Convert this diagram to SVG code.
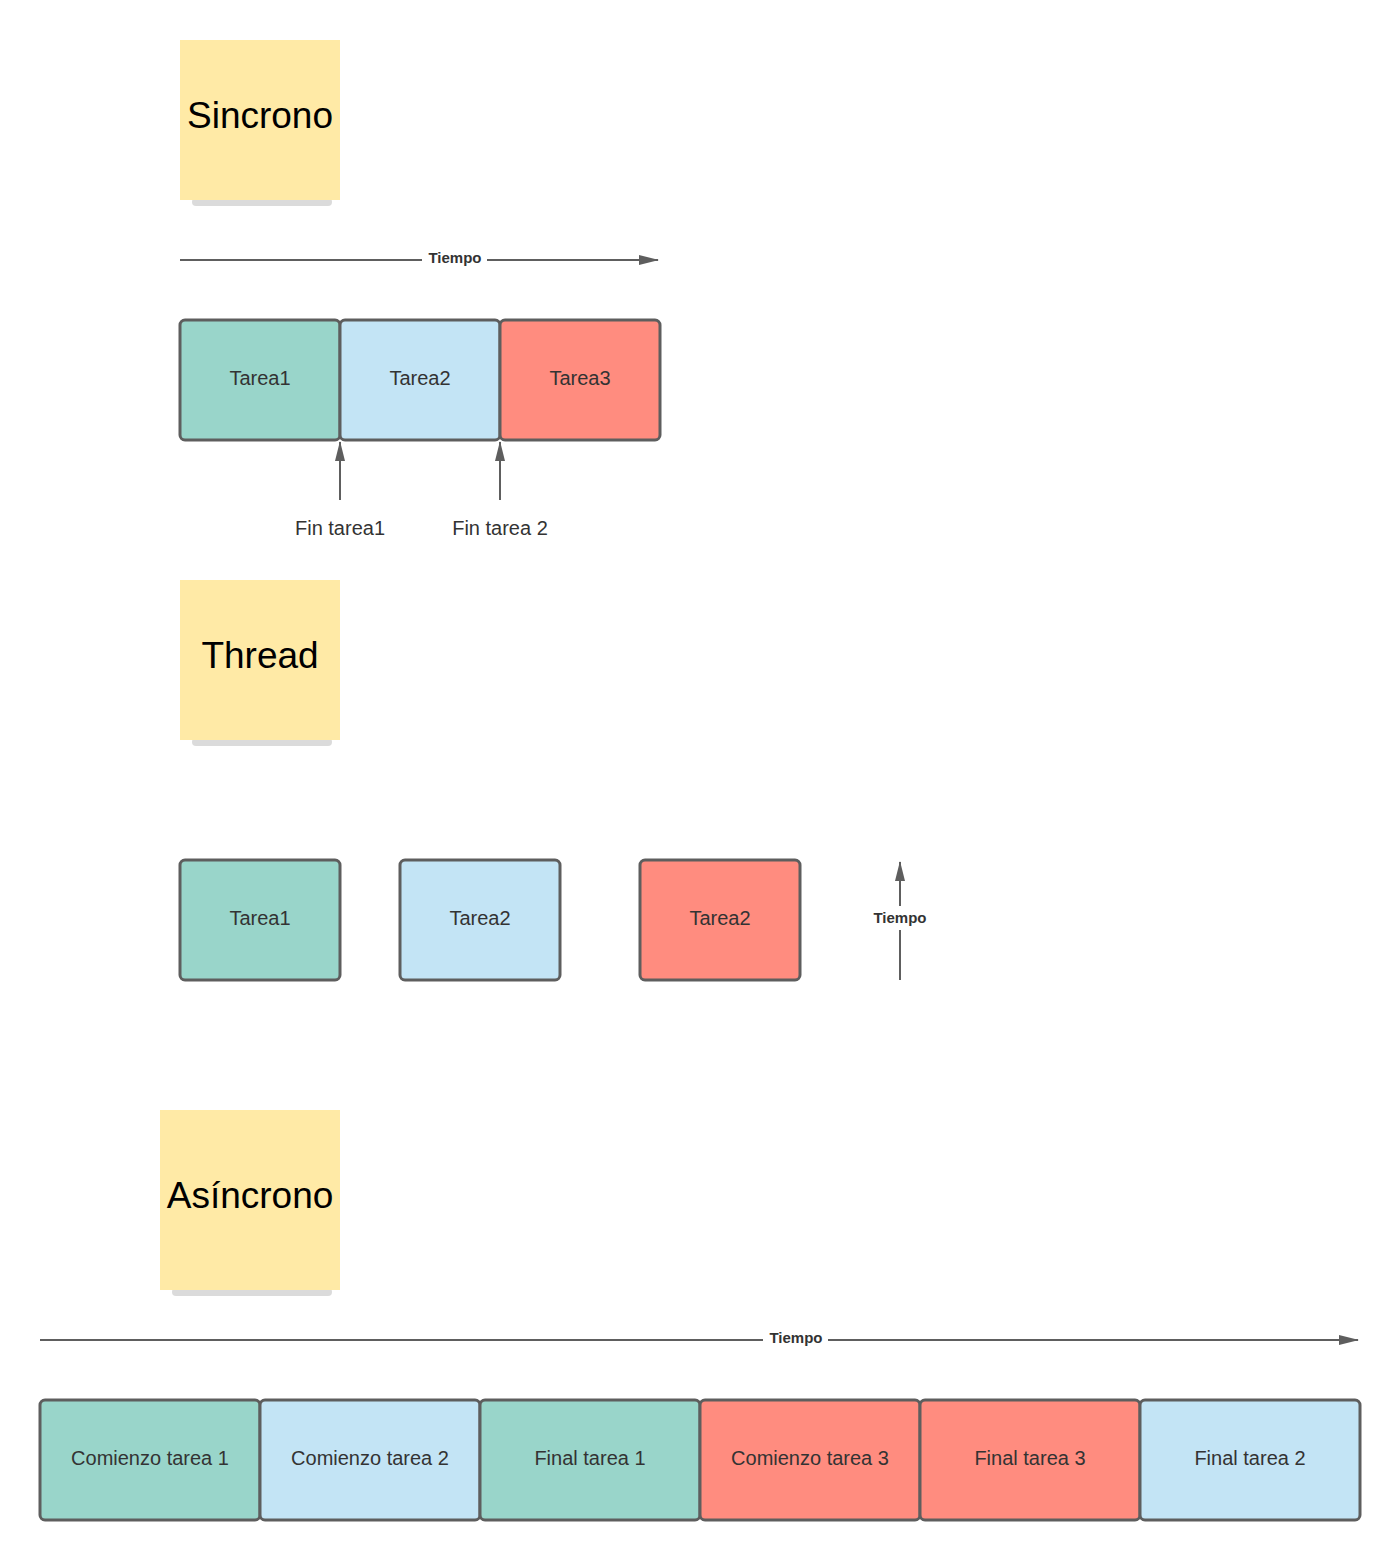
<svg xmlns="http://www.w3.org/2000/svg" width="1400" height="1560" viewBox="0 0 1400 1560">
<style>
.note{fill:#ffeaa6}
.sh{fill:#999;opacity:0.35}
.nt{font-family:"Liberation Sans",Arial,sans-serif;font-size:37px;fill:#000;text-anchor:middle}
.box{stroke:#5e5e5e;stroke-width:3}
.t1{fill:#99d5ca}.t2{fill:#c3e4f5}.t3{fill:#ff8c7f}
.bt{font-family:"Liberation Sans",Arial,sans-serif;font-size:20px;fill:#333;text-anchor:middle}
.ln{stroke:#5e5e5e;stroke-width:2;fill:none}
.lb{font-family:"Liberation Sans",Arial,sans-serif;font-size:15px;font-weight:bold;fill:#333;text-anchor:middle}
</style>
<defs>
<marker id="ar" viewBox="0 0 10 10" refX="9" refY="5" markerWidth="10" markerHeight="10" markerUnits="userSpaceOnUse" orient="auto"><path d="M0,1 L10,5 L0,9 z" fill="#5e5e5e"/></marker>
<marker id="ar2" viewBox="0 0 20 10" refX="19" refY="5" markerWidth="20" markerHeight="12" markerUnits="userSpaceOnUse" orient="auto"><path d="M0,0 L20,5 L0,10 z" fill="#5e5e5e"/></marker>
</defs>
<g id="note-sincrono"><rect class="sh" x="192" y="198" width="140" height="8" rx="4"/><rect class="note" x="180" y="40" width="160" height="160"/><text class="nt" x="260" y="128">Sincrono</text></g>
<g id="note-thread"><rect class="sh" x="192" y="738" width="140" height="8" rx="4"/><rect class="note" x="180" y="580" width="160" height="160"/><text class="nt" x="260" y="668">Thread</text></g>
<g id="note-asincrono"><rect class="sh" x="172" y="1288" width="160" height="8" rx="4"/><rect class="note" x="160" y="1110" width="180" height="180"/><text class="nt" x="250" y="1208">Asíncrono</text></g>
<g id="connectors">
<path class="ln" d="M180,260 H422 M487,260 H658" marker-end="url(#ar2)"/>
<text class="lb" x="455" y="263">Tiempo</text>
<path class="ln" d="M340,500 V442" marker-end="url(#ar2)"/>
<path class="ln" d="M500,500 V442" marker-end="url(#ar2)"/>
<path class="ln" d="M900,980 V930 M900,906 V862" marker-end="url(#ar2)"/>
<text class="lb" x="900" y="923">Tiempo</text>
<path class="ln" d="M40,1340 H763 M828,1340 H1358" marker-end="url(#ar2)"/>
<text class="lb" x="796" y="1343">Tiempo</text>
</g>
<text class="bt" x="340" y="535">Fin tarea1</text>
<text class="bt" x="500" y="535">Fin tarea 2</text>
<g id="s1"><rect class="box t1" x="180" y="320" width="160" height="120" rx="5"/><text class="bt" x="260" y="385">Tarea1</text></g>
<g id="s2"><rect class="box t2" x="340" y="320" width="160" height="120" rx="5"/><text class="bt" x="420" y="385">Tarea2</text></g>
<g id="s3"><rect class="box t3" x="500" y="320" width="160" height="120" rx="5"/><text class="bt" x="580" y="385">Tarea3</text></g>
<g id="th1"><rect class="box t1" x="180" y="860" width="160" height="120" rx="5"/><text class="bt" x="260" y="925">Tarea1</text></g>
<g id="th2"><rect class="box t2" x="400" y="860" width="160" height="120" rx="5"/><text class="bt" x="480" y="925">Tarea2</text></g>
<g id="th3"><rect class="box t3" x="640" y="860" width="160" height="120" rx="5"/><text class="bt" x="720" y="925">Tarea2</text></g>
<g id="a1"><rect class="box t1" x="40" y="1400" width="220" height="120" rx="5"/><text class="bt" x="150" y="1465">Comienzo tarea 1</text></g>
<g id="a2"><rect class="box t2" x="260" y="1400" width="220" height="120" rx="5"/><text class="bt" x="370" y="1465">Comienzo tarea 2</text></g>
<g id="a3"><rect class="box t1" x="480" y="1400" width="220" height="120" rx="5"/><text class="bt" x="590" y="1465">Final tarea 1</text></g>
<g id="a4"><rect class="box t3" x="700" y="1400" width="220" height="120" rx="5"/><text class="bt" x="810" y="1465">Comienzo tarea 3</text></g>
<g id="a5"><rect class="box t3" x="920" y="1400" width="220" height="120" rx="5"/><text class="bt" x="1030" y="1465">Final tarea 3</text></g>
<g id="a6"><rect class="box t2" x="1140" y="1400" width="220" height="120" rx="5"/><text class="bt" x="1250" y="1465">Final tarea 2</text></g>
</svg>
